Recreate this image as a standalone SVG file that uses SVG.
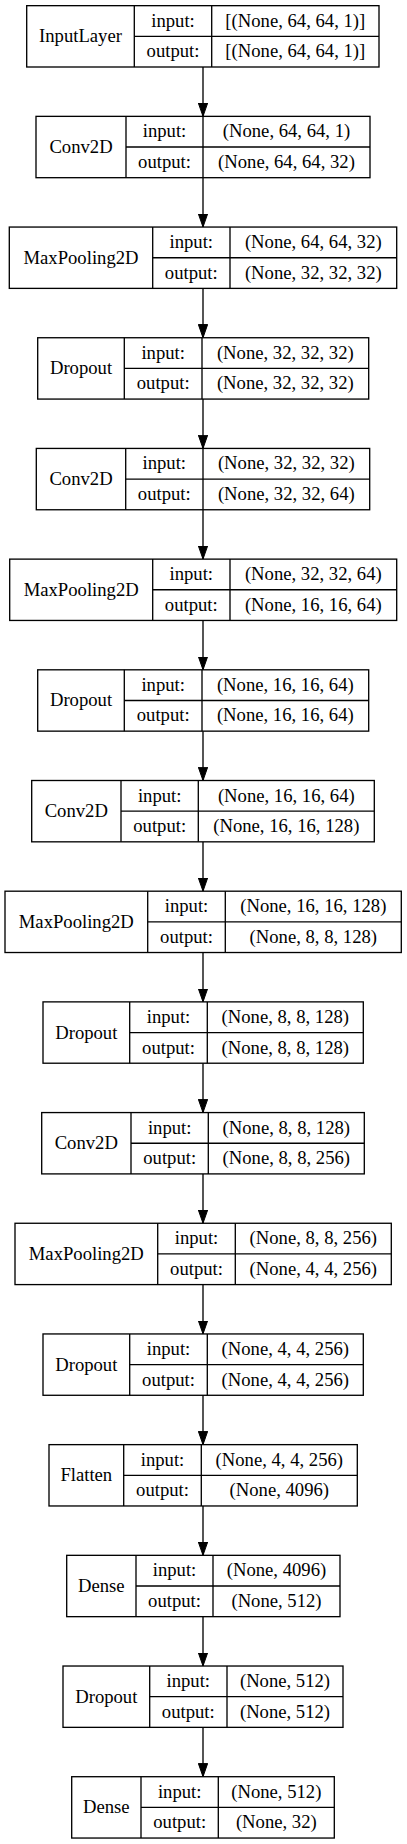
<svg xmlns="http://www.w3.org/2000/svg" width="407" height="1844" viewBox="0 0 407 1844">
<style>
.b{fill:#fff;stroke:#000;stroke-width:1.33}
.l{stroke:#000;stroke-width:1.33;fill:none}
text{font-family:"Liberation Serif","Times New Roman",serif;font-size:18.67px;text-anchor:middle;fill:#000}
.e{stroke:#000;stroke-width:1.33;fill:none;marker-end:url(#ah)}
</style>
<defs>
<marker id="ah" markerUnits="userSpaceOnUse" markerWidth="14" markerHeight="10" refX="13.3" refY="4.67" orient="auto">
<path d="M0,0 L13.3,4.67 L0,9.33 Z" fill="#000" stroke="#000" stroke-width="1"/>
</marker>
</defs>
<rect width="407" height="1844" fill="#fff"/>
<g id="connectors">
<line class="e" x1="203" y1="67" x2="203" y2="116.36"/>
<line class="e" x1="203" y1="177.69" x2="203" y2="227.05"/>
<line class="e" x1="203" y1="288.38" x2="203" y2="337.74"/>
<line class="e" x1="203" y1="399.07" x2="203" y2="448.43"/>
<line class="e" x1="203" y1="509.76" x2="203" y2="559.12"/>
<line class="e" x1="203" y1="620.45" x2="203" y2="669.81"/>
<line class="e" x1="203" y1="731.14" x2="203" y2="780.5"/>
<line class="e" x1="203" y1="841.83" x2="203" y2="891.19"/>
<line class="e" x1="203" y1="952.52" x2="203" y2="1001.88"/>
<line class="e" x1="203" y1="1063.21" x2="203" y2="1112.57"/>
<line class="e" x1="203" y1="1173.9" x2="203" y2="1223.26"/>
<line class="e" x1="203" y1="1284.59" x2="203" y2="1333.95"/>
<line class="e" x1="203" y1="1395.28" x2="203" y2="1444.64"/>
<line class="e" x1="203" y1="1505.97" x2="203" y2="1555.33"/>
<line class="e" x1="203" y1="1616.66" x2="203" y2="1666.02"/>
<line class="e" x1="203" y1="1727.35" x2="203" y2="1776.71"/>
</g>
<g id="n0" transform="translate(0,5.67)">
<rect class="b" x="26.7" y="0" width="352.3" height="61.33"/>
<line class="l" x1="134.3" y1="0" x2="134.3" y2="61.33"/><line class="l" x1="211.7" y1="0" x2="211.7" y2="61.33"/><line class="l" x1="134.3" y1="30.67" x2="379" y2="30.67"/>
<text x="80.5" y="36.7">InputLayer</text><text x="173" y="21">input:</text><text x="173" y="51.7">output:</text>
<text x="295.3" y="21">[(None, 64, 64, 1)]</text><text x="295.3" y="51.7">[(None, 64, 64, 1)]</text>
</g>
<g id="n1" transform="translate(0,116.36)">
<rect class="b" x="36" y="0" width="334" height="61.33"/>
<line class="l" x1="126" y1="0" x2="126" y2="61.33"/><line class="l" x1="203" y1="0" x2="203" y2="61.33"/><line class="l" x1="126" y1="30.67" x2="370" y2="30.67"/>
<text x="81" y="36.7">Conv2D</text><text x="164.5" y="21">input:</text><text x="164.5" y="51.7">output:</text>
<text x="286.5" y="21">(None, 64, 64, 1)</text><text x="286.5" y="51.7">(None, 64, 64, 32)</text>
</g>
<g id="n2" transform="translate(0,227.05)">
<rect class="b" x="9.3" y="0" width="387.4" height="61.33"/>
<line class="l" x1="152.7" y1="0" x2="152.7" y2="61.33"/><line class="l" x1="230" y1="0" x2="230" y2="61.33"/><line class="l" x1="152.7" y1="30.67" x2="396.7" y2="30.67"/>
<text x="81" y="36.7">MaxPooling2D</text><text x="191.3" y="21">input:</text><text x="191.3" y="51.7">output:</text>
<text x="313.3" y="21">(None, 64, 64, 32)</text><text x="313.3" y="51.7">(None, 32, 32, 32)</text>
</g>
<g id="n3" transform="translate(0,337.74)">
<rect class="b" x="37.7" y="0" width="331" height="61.33"/>
<line class="l" x1="124.3" y1="0" x2="124.3" y2="61.33"/><line class="l" x1="202" y1="0" x2="202" y2="61.33"/><line class="l" x1="124.3" y1="30.67" x2="368.7" y2="30.67"/>
<text x="81" y="36.7">Dropout</text><text x="163.2" y="21">input:</text><text x="163.2" y="51.7">output:</text>
<text x="285.3" y="21">(None, 32, 32, 32)</text><text x="285.3" y="51.7">(None, 32, 32, 32)</text>
</g>
<g id="n4" transform="translate(0,448.43)">
<rect class="b" x="36.3" y="0" width="333.4" height="61.33"/>
<line class="l" x1="125.7" y1="0" x2="125.7" y2="61.33"/><line class="l" x1="203" y1="0" x2="203" y2="61.33"/><line class="l" x1="125.7" y1="30.67" x2="369.7" y2="30.67"/>
<text x="81" y="36.7">Conv2D</text><text x="164.3" y="21">input:</text><text x="164.3" y="51.7">output:</text>
<text x="286.3" y="21">(None, 32, 32, 32)</text><text x="286.3" y="51.7">(None, 32, 32, 64)</text>
</g>
<g id="n5" transform="translate(0,559.12)">
<rect class="b" x="9.7" y="0" width="387" height="61.33"/>
<line class="l" x1="152.7" y1="0" x2="152.7" y2="61.33"/><line class="l" x1="230" y1="0" x2="230" y2="61.33"/><line class="l" x1="152.7" y1="30.67" x2="396.7" y2="30.67"/>
<text x="81.2" y="36.7">MaxPooling2D</text><text x="191.3" y="21">input:</text><text x="191.3" y="51.7">output:</text>
<text x="313.3" y="21">(None, 32, 32, 64)</text><text x="313.3" y="51.7">(None, 16, 16, 64)</text>
</g>
<g id="n6" transform="translate(0,669.81)">
<rect class="b" x="37.7" y="0" width="331" height="61.33"/>
<line class="l" x1="124.3" y1="0" x2="124.3" y2="61.33"/><line class="l" x1="202" y1="0" x2="202" y2="61.33"/><line class="l" x1="124.3" y1="30.67" x2="368.7" y2="30.67"/>
<text x="81" y="36.7">Dropout</text><text x="163.2" y="21">input:</text><text x="163.2" y="51.7">output:</text>
<text x="285.3" y="21">(None, 16, 16, 64)</text><text x="285.3" y="51.7">(None, 16, 16, 64)</text>
</g>
<g id="n7" transform="translate(0,780.5)">
<rect class="b" x="31.7" y="0" width="342.6" height="61.33"/>
<line class="l" x1="121" y1="0" x2="121" y2="61.33"/><line class="l" x1="198.3" y1="0" x2="198.3" y2="61.33"/><line class="l" x1="121" y1="30.67" x2="374.3" y2="30.67"/>
<text x="76.3" y="36.7">Conv2D</text><text x="159.7" y="21">input:</text><text x="159.7" y="51.7">output:</text>
<text x="286.3" y="21">(None, 16, 16, 64)</text><text x="286.3" y="51.7">(None, 16, 16, 128)</text>
</g>
<g id="n8" transform="translate(0,891.19)">
<rect class="b" x="5" y="0" width="396.3" height="61.33"/>
<line class="l" x1="147.7" y1="0" x2="147.7" y2="61.33"/><line class="l" x1="225.3" y1="0" x2="225.3" y2="61.33"/><line class="l" x1="147.7" y1="30.67" x2="401.3" y2="30.67"/>
<text x="76.3" y="36.7">MaxPooling2D</text><text x="186.5" y="21">input:</text><text x="186.5" y="51.7">output:</text>
<text x="313.3" y="21">(None, 16, 16, 128)</text><text x="313.3" y="51.7">(None, 8, 8, 128)</text>
</g>
<g id="n9" transform="translate(0,1001.88)">
<rect class="b" x="43" y="0" width="320.3" height="61.33"/>
<line class="l" x1="129.7" y1="0" x2="129.7" y2="61.33"/><line class="l" x1="207.3" y1="0" x2="207.3" y2="61.33"/><line class="l" x1="129.7" y1="30.67" x2="363.3" y2="30.67"/>
<text x="86.3" y="36.7">Dropout</text><text x="168.5" y="21">input:</text><text x="168.5" y="51.7">output:</text>
<text x="285.3" y="21">(None, 8, 8, 128)</text><text x="285.3" y="51.7">(None, 8, 8, 128)</text>
</g>
<g id="n10" transform="translate(0,1112.57)">
<rect class="b" x="41.7" y="0" width="322.6" height="61.33"/>
<line class="l" x1="131" y1="0" x2="131" y2="61.33"/><line class="l" x1="208.3" y1="0" x2="208.3" y2="61.33"/><line class="l" x1="131" y1="30.67" x2="364.3" y2="30.67"/>
<text x="86.3" y="36.7">Conv2D</text><text x="169.7" y="21">input:</text><text x="169.7" y="51.7">output:</text>
<text x="286.3" y="21">(None, 8, 8, 128)</text><text x="286.3" y="51.7">(None, 8, 8, 256)</text>
</g>
<g id="n11" transform="translate(0,1223.26)">
<rect class="b" x="15" y="0" width="376.3" height="61.33"/>
<line class="l" x1="157.7" y1="0" x2="157.7" y2="61.33"/><line class="l" x1="235.3" y1="0" x2="235.3" y2="61.33"/><line class="l" x1="157.7" y1="30.67" x2="391.3" y2="30.67"/>
<text x="86.3" y="36.7">MaxPooling2D</text><text x="196.5" y="21">input:</text><text x="196.5" y="51.7">output:</text>
<text x="313.3" y="21">(None, 8, 8, 256)</text><text x="313.3" y="51.7">(None, 4, 4, 256)</text>
</g>
<g id="n12" transform="translate(0,1333.95)">
<rect class="b" x="43" y="0" width="320.3" height="61.33"/>
<line class="l" x1="129.7" y1="0" x2="129.7" y2="61.33"/><line class="l" x1="207.3" y1="0" x2="207.3" y2="61.33"/><line class="l" x1="129.7" y1="30.67" x2="363.3" y2="30.67"/>
<text x="86.3" y="36.7">Dropout</text><text x="168.5" y="21">input:</text><text x="168.5" y="51.7">output:</text>
<text x="285.3" y="21">(None, 4, 4, 256)</text><text x="285.3" y="51.7">(None, 4, 4, 256)</text>
</g>
<g id="n13" transform="translate(0,1444.64)">
<rect class="b" x="49" y="0" width="308.3" height="61.33"/>
<line class="l" x1="123.7" y1="0" x2="123.7" y2="61.33"/><line class="l" x1="201.3" y1="0" x2="201.3" y2="61.33"/><line class="l" x1="123.7" y1="30.67" x2="357.3" y2="30.67"/>
<text x="86.3" y="36.7">Flatten</text><text x="162.5" y="21">input:</text><text x="162.5" y="51.7">output:</text>
<text x="279.3" y="21">(None, 4, 4, 256)</text><text x="279.3" y="51.7">(None, 4096)</text>
</g>
<g id="n14" transform="translate(0,1555.33)">
<rect class="b" x="66.7" y="0" width="273.3" height="61.33"/>
<line class="l" x1="136" y1="0" x2="136" y2="61.33"/><line class="l" x1="213" y1="0" x2="213" y2="61.33"/><line class="l" x1="136" y1="30.67" x2="340" y2="30.67"/>
<text x="101.3" y="36.7">Dense</text><text x="174.5" y="21">input:</text><text x="174.5" y="51.7">output:</text>
<text x="276.5" y="21">(None, 4096)</text><text x="276.5" y="51.7">(None, 512)</text>
</g>
<g id="n15" transform="translate(0,1666.02)">
<rect class="b" x="63" y="0" width="280" height="61.33"/>
<line class="l" x1="149.7" y1="0" x2="149.7" y2="61.33"/><line class="l" x1="227" y1="0" x2="227" y2="61.33"/><line class="l" x1="149.7" y1="30.67" x2="343" y2="30.67"/>
<text x="106.3" y="36.7">Dropout</text><text x="188.3" y="21">input:</text><text x="188.3" y="51.7">output:</text>
<text x="285" y="21">(None, 512)</text><text x="285" y="51.7">(None, 512)</text>
</g>
<g id="n16" transform="translate(0,1776.71)">
<rect class="b" x="71.7" y="0" width="262.6" height="61.33"/>
<line class="l" x1="141" y1="0" x2="141" y2="61.33"/><line class="l" x1="218.3" y1="0" x2="218.3" y2="61.33"/><line class="l" x1="141" y1="30.67" x2="334.3" y2="30.67"/>
<text x="106.3" y="36.7">Dense</text><text x="179.7" y="21">input:</text><text x="179.7" y="51.7">output:</text>
<text x="276.3" y="21">(None, 512)</text><text x="276.3" y="51.7">(None, 32)</text>
</g>
</svg>
